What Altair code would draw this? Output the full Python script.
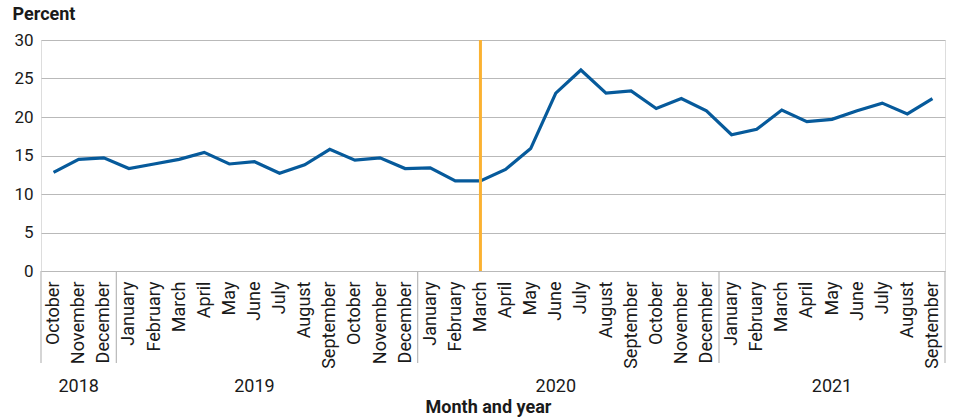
import altair as alt
import pandas as pd

# ---- data ----
months = ["October", "November", "December",
          "January", "February", "March", "April", "May", "June",
          "July", "August", "September", "October", "November", "December",
          "January", "February", "March", "April", "May", "June",
          "July", "August", "September", "October", "November", "December",
          "January", "February", "March", "April", "May", "June",
          "July", "August", "September"]
years = [2018] * 3 + [2019] * 12 + [2020] * 12 + [2021] * 9
values = [12.8, 14.5, 14.7,
          13.3, 13.9, 14.5, 15.4, 13.9, 14.2, 12.7, 13.8, 15.8, 14.4, 14.7, 13.3,
          13.4, 11.7, 11.7, 13.2, 15.9, 23.1, 26.1, 23.1, 23.4, 21.1, 22.4, 20.8,
          17.7, 18.4, 20.9, 19.4, 19.7, 20.8, 21.8, 20.4, 22.4]
event_month = ("March", 2020)
year_list = [2018, 2019, 2020, 2021]

FONT = "Roboto"
BLUE = "#065a9b"
ORANGE = "#fbb232"
GRID = "#b9b9b9"
TEXT = "#1a1a1a"

idx = list(range(len(values)))
df = pd.DataFrame({"i": idx, "month": months, "year": years, "value": values})

# year groups: boundaries and label position (middle month of each year)
bounds = [-0.5]
year_pos = []
for y in year_list:
    ii = [i for i in idx if years[i] == y]
    bounds.append(ii[-1] + 0.5)
    year_pos.append(ii[(len(ii) - 1) // 2])
bounds_df = pd.DataFrame({"b": bounds})
years_df = pd.DataFrame({"year": [str(y) for y in year_list], "pos": year_pos})
event_idx = [i for i in idx if months[i] == event_month[0] and years[i] == event_month[1]][0]
event_df = pd.DataFrame({"i": [event_idx]})

W, H = 904, 231
label_expr = "[" + ",".join("'" + m + "'" for m in months) + "][datum.value]"

xscale = alt.Scale(domain=[-0.5, len(values) - 0.5], nice=False, zero=False)
yscale = alt.Scale(domain=[0, 30], nice=False)

xaxis = alt.Axis(values=idx, labelExpr=label_expr, labelAngle=270,
                 labelFontSize=18, labelFont=FONT, labelColor=TEXT,
                 labelPadding=10, ticks=False, tickSize=0, domain=False,
                 grid=False, labelOverlap=False, labelFlush=False,
                 labelBound=False,
                 title="Month and year", titleFont=FONT, titleFontSize=18,
                 titleFontWeight="bold", titleColor=TEXT,
                 titleX=447, titleY=141, titleAlign="center",
                 titleBaseline="alphabetic")

line = alt.Chart(df).mark_line(color=BLUE, strokeWidth=3.2).encode(
    x=alt.X("i:Q", scale=xscale, axis=xaxis),
    y=alt.Y("value:Q", scale=yscale,
            axis=alt.Axis(values=[0, 5, 10, 15, 20, 25, 30], domain=False,
                          ticks=False, labelFontSize=17, labelFont=FONT,
                          labelColor=TEXT, labelPadding=8, gridColor=GRID,
                          gridWidth=1.2,
                          title="Percent", titleFont=FONT, titleFontSize=18,
                          titleFontWeight="bold", titleColor=TEXT, titleAngle=0,
                          titleX=-29, titleY=-21, titleAlign="left",
                          titleBaseline="alphabetic")),
)

event = alt.Chart(event_df).mark_rule(color=ORANGE, strokeWidth=3).encode(
    x=alt.X("i:Q", scale=xscale, axis=xaxis),
    y=alt.value(0), y2=alt.value(H),
)

seps = alt.Chart(bounds_df).mark_rule(color=GRID, strokeWidth=1.2).encode(
    x=alt.X("b:Q", scale=xscale, axis=xaxis),
    y=alt.value(H), y2=alt.value(H + 92),
)

year_text = alt.Chart(years_df).mark_text(
    font=FONT, fontSize=18, color=TEXT, baseline="alphabetic", align="center"
).encode(
    x=alt.X("pos:Q", scale=xscale, axis=xaxis),
    y=alt.value(H + 121),
    text="year:N",
)

chart = alt.layer(line, event, seps, year_text).properties(
    width=W, height=H,
    autosize=alt.AutoSizeParams(type="none"),
    padding={"left": 41, "top": 40, "right": 15, "bottom": 149},
).configure_view(stroke=None).configure(background="white").configure_axis(
    labelOverlap=False
)

chart.save("out.html", embed_options={"renderer": "svg", "actions": False})
